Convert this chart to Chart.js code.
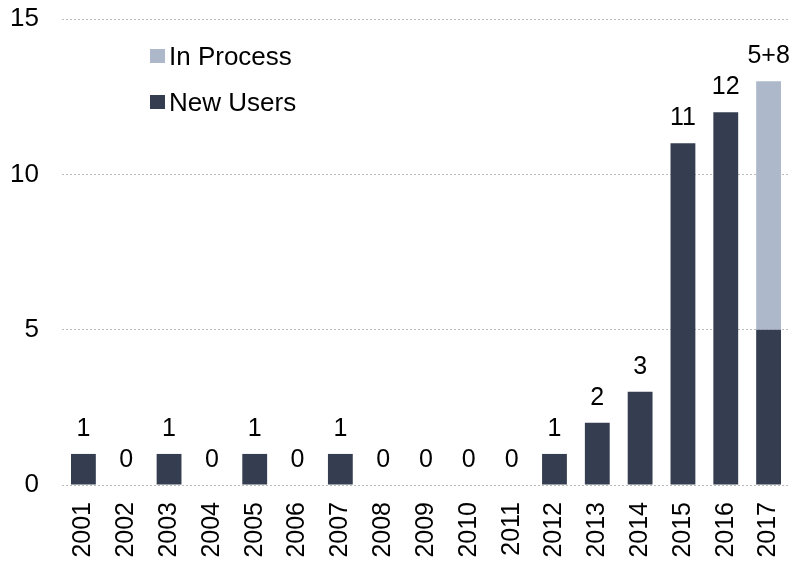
<!DOCTYPE html>
<html>
<head>
<meta charset="utf-8">
<script src="https://cdn.jsdelivr.net/npm/chart.js@4/dist/chart.umd.min.js"></script>
<style>
  html, body { margin: 0; padding: 0; background: #fff; }
  #wrap { position: relative; width: 792px; height: 562px; }
</style>
</head>
<body>
<div id="wrap"><canvas id="chart"></canvas></div>
<script>
const years = ['2001','2002','2003','2004','2005','2006','2007','2008','2009','2010','2011','2012','2013','2014','2015','2016','2017'];
const newUsers = [1,0,1,0,1,0,1,0,0,0,0,1,2,3,11,12,5];
const inProcess = [0,0,0,0,0,0,0,0,0,0,0,0,0,0,0,0,8];
const yTicks = [0, 5, 10, 15];

const darkColor = '#353e50';
const lightColor = '#adb9cb';
const font = 'Liberation Sans, Arial, sans-serif';

// labels above each stack, "a+b" when both parts exist
const topLabels = {
   id: 'topLabels',
   afterDatasetsDraw(chart) {
      const ctx = chart.ctx;
      const y = chart.scales.y;
      ctx.save();
      ctx.font = '25px ' + font;
      ctx.fillStyle = '#000';
      ctx.textAlign = 'center';
      ctx.textBaseline = 'alphabetic';
      years.forEach((yr, i) => {
         const x = chart.getDatasetMeta(0).data[i].x;
         const total = newUsers[i] + inProcess[i];
         const txt = inProcess[i] > 0 ? newUsers[i] + '+' + inProcess[i] : String(newUsers[i]);
         ctx.fillText(txt, x, y.getPixelForValue(total) - 18);
      });
      ctx.restore();
   }
};

// legend drawn inside the plot, top-left
const insideLegend = {
   id: 'insideLegend',
   afterDraw(chart) {
      const ctx = chart.ctx;
      const items = [
         { label: chart.data.datasets[1].label, color: lightColor, y: 56 },
         { label: chart.data.datasets[0].label, color: darkColor, y: 102 }
      ];
      ctx.save();
      ctx.font = '26px ' + font;
      ctx.textBaseline = 'alphabetic';
      items.forEach(it => {
         ctx.fillStyle = it.color;
         ctx.fillRect(150, it.y - 7, 15, 14);
         ctx.fillStyle = '#000';
         ctx.fillText(it.label, 169, it.y + 9);
      });
      ctx.restore();
   }
};

new Chart(document.getElementById('chart'), {
   type: 'bar',
   data: {
      labels: years,
      datasets: [
         { label: 'New Users', data: newUsers, backgroundColor: darkColor, barPercentage: 0.58, categoryPercentage: 1 },
         { label: 'In Process', data: inProcess, backgroundColor: lightColor, barPercentage: 0.58, categoryPercentage: 1 }
      ]
   },
   options: {
      responsive: true,
      maintainAspectRatio: false,
      animation: false,
      layout: { padding: { top: 19, right: 2, left: 0, bottom: 0 } },
      plugins: {
         legend: { display: false },
         tooltip: { enabled: false }
      },
      scales: {
         x: {
            stacked: true,
            grid: { display: false },
            border: { display: false },
            afterFit(axis) { axis.height = 77; axis.paddingLeft = 0; axis.paddingRight = 0; },
            ticks: {
               color: '#000',
               font: { family: font, size: 25 },
               minRotation: 90,
               maxRotation: 90,
               padding: 9
            }
         },
         y: {
            stacked: true,
            min: 0,
            max: 15,
            afterBuildTicks(axis) { axis.ticks = yTicks.map(v => ({ value: v })); },
            afterFit(axis) { axis.width = 62; axis.paddingTop = 0; axis.paddingBottom = 0; },
            grid: {
               color: '#bbbbbb',
               lineWidth: 1,
               drawTicks: false
            },
            border: { display: false, dash: [2, 2] },
            ticks: {
               color: '#000',
               font: { family: font, size: 26 },
               padding: 23
            }
         }
      }
   },
   plugins: [topLabels, insideLegend]
});
</script>
</body>
</html>
